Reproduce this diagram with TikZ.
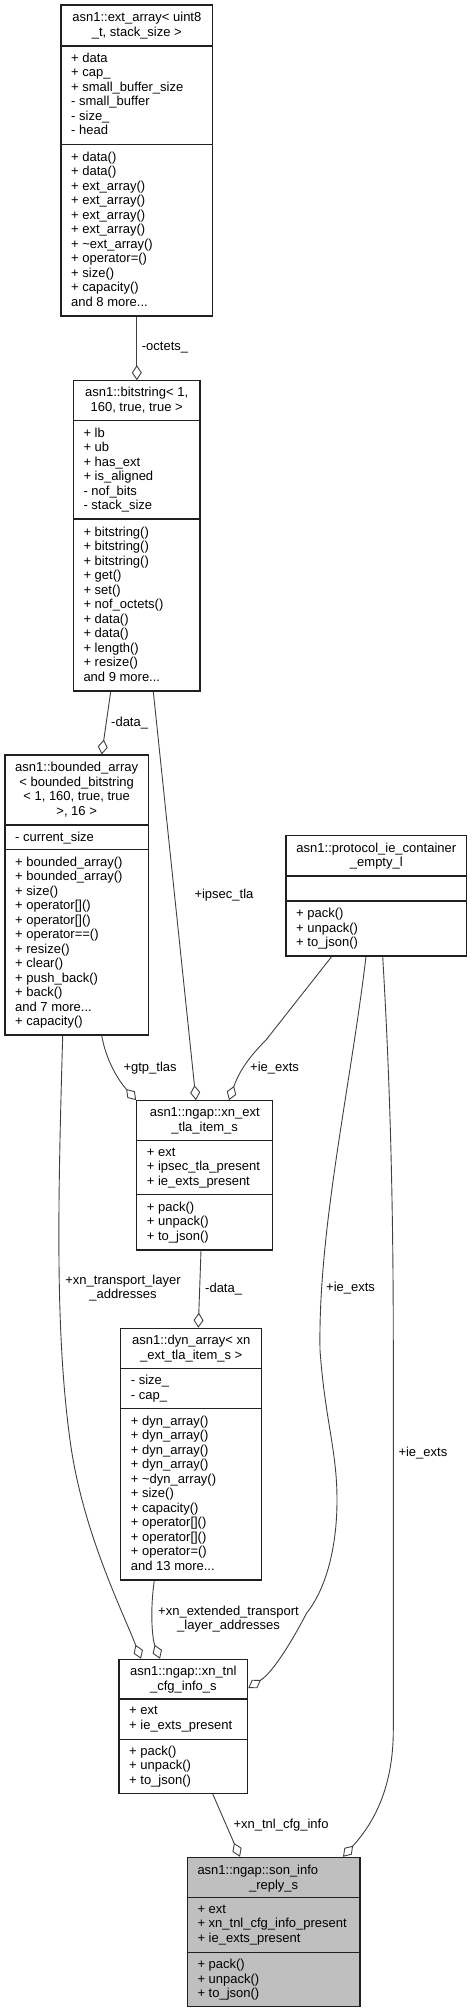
\documentclass[tikz,border=0pt]{standalone}
\usepackage{fontspec}
\setmainfont{Liberation Sans}
\usetikzlibrary{arrows.meta,calc}
\definecolor{edgegray}{HTML}{404040}
\definecolor{framegray}{HTML}{202020}
\definecolor{focusfill}{HTML}{BFBFBF}
\newcommand\umlbox[8]{%
  \node[umlframe, fill=#8, minimum width={(#3)-(#2)}, minimum height={(#7)-(#4)}] (#1) at ({((#2)+(#3))/2},{((#4)+(#7))/2}) {};
  \draw[umlsep] (#2,#5) -- (#3,#5);
  \draw[umlsep] (#2,#6) -- (#3,#6);
}
\begin{document}
\begin{tikzpicture}[x=1pt,y=-1pt,
  umlframe/.style={draw=framegray, line width=1.1pt, inner sep=0pt, rectangle},
  umlsep/.style={draw=framegray, line width=1.1pt},
  utxt/.style={inner sep=0pt, font=\fontsize{13}{14.5}\selectfont, execute at begin node=\strut, execute at end node=\strut},
  ttl/.style={utxt, align=center, anchor=center},
  mem/.style={utxt, align=left, anchor=west},
  lbl/.style={inner sep=0pt, font=\fontsize{13}{14.5}\selectfont, anchor=west},
  lblc/.style={inner sep=0pt, font=\fontsize{13}{14.5}\selectfont, align=center, anchor=center},
  aggr/.style={draw=edgegray, line width=0.9pt, -{Diamond[open, length=15pt, width=10pt]}}
]
\useasboundingbox (0,0) rectangle (473,2013);

% ---------- boxes ----------
\umlbox{E}{61}{212.7}{5}{46}{144.3}{316}{white}
\node[ttl] (Et) at (136.85,26.5) {asn1::ext\_array< uint8\\\_t, stack\_size >};
\node[mem] (Ea) at (71,96.2) {+ data\\+ cap\_\\+ small\_buffer\_size\\- small\_buffer\\- size\_\\- head};
\node[mem] (Em) at (71,231.2) {+ data()\\+ data()\\+ ext\_array()\\+ ext\_array()\\+ ext\_array()\\+ ext\_array()\\+ \textasciitilde{}ext\_array()\\+ operator=()\\+ size()\\+ capacity()\\and 8 more...};

\umlbox{B}{73.3}{200}{380.7}{420.7}{519}{691}{white}
\node[ttl] (Bt) at (136.65,401.7) {asn1::bitstring< 1,\\160, true, true >};
\node[mem] (Ba) at (83.3,470.9) {+ lb\\+ ub\\+ has\_ext\\+ is\_aligned\\- nof\_bits\\- stack\_size};
\node[mem] (Bm) at (83.3,606) {+ bitstring()\\+ bitstring()\\+ bitstring()\\+ get()\\+ set()\\+ nof\_octets()\\+ data()\\+ data()\\+ length()\\+ resize()\\and 9 more...};

\umlbox{BA}{5}{148.3}{755}{825}{849.5}{1035}{white}
\node[ttl] (BAt) at (76.65,791) {asn1::bounded\_array\\< bounded\_bitstring\\< 1, 160, true, true\\>, 16 >};
\node[mem] (BAa) at (15,838.3) {- current\_size};
\node[mem] (BAm) at (15,943.3) {+ bounded\_array()\\+ bounded\_array()\\+ size()\\+ operator[]()\\+ operator[]()\\+ operator==()\\+ resize()\\+ clear()\\+ push\_back()\\+ back()\\and 7 more...\\+ capacity()};

\umlbox{P}{286}{466.7}{835.5}{876}{901}{956}{white}
\node[ttl] (Pt) at (376.35,856.8) {asn1::protocol\_ie\_container\\\_empty\_l};
\node[mem] (Pm) at (296,929.5) {+ pack()\\+ unpack()\\+ to\_json()};

\umlbox{X}{136.7}{272.7}{1100.7}{1140.7}{1194.3}{1250}{white}
\node[ttl] (Xt) at (204.7,1121.7) {asn1::ngap::xn\_ext\\\_tla\_item\_s};
\node[mem] (Xa) at (146.7,1168.5) {+ ext\\+ ipsec\_tla\_present\\+ ie\_exts\_present};
\node[mem] (Xm) at (146.7,1223.2) {+ pack()\\+ unpack()\\+ to\_json()};

\umlbox{D}{120.7}{261.7}{1328.3}{1368.3}{1408.3}{1580}{white}
\node[ttl] (Dt) at (191.2,1349.3) {asn1::dyn\_array< xn\\\_ext\_tla\_item\_s >};
\node[mem] (Da) at (130.7,1389.3) {- size\_\\- cap\_};
\node[mem] (Dm) at (130.7,1495.2) {+ dyn\_array()\\+ dyn\_array()\\+ dyn\_array()\\+ dyn\_array()\\+ \textasciitilde{}dyn\_array()\\+ size()\\+ capacity()\\+ operator[]()\\+ operator[]()\\+ operator=()\\and 13 more...};

\umlbox{T}{119}{247.7}{1659.3}{1699}{1739.3}{1793.3}{white}
\node[ttl] (Tt) at (183.35,1680.2) {asn1::ngap::xn\_tnl\\\_cfg\_info\_s};
\node[mem] (Ta) at (129,1720.2) {+ ext\\+ ie\_exts\_present};
\node[mem] (Tm) at (129,1767.3) {+ pack()\\+ unpack()\\+ to\_json()};

\umlbox{S}{187.3}{360}{1857.3}{1897.3}{1952.3}{2006.7}{focusfill}
\node[lbl, anchor=base west] (St1) at (197.3,1874.8) {asn1::ngap::son\_info};
\node[lbl, anchor=base] (St2) at (273.65,1889.3) {\_reply\_s};
\node[mem] (Sa) at (197.3,1925.8) {+ ext\\+ xn\_tnl\_cfg\_info\_present\\+ ie\_exts\_present};
\node[mem] (Sm) at (197.3,1980.5) {+ pack()\\+ unpack()\\+ to\_json()};

% ---------- connectors ----------
\draw[aggr] (136.85,0 |- E.south) -- (136.85,0 |- B.north);
\draw[aggr] (110.7,0 |- B.south) -- (101.7,0 |- BA.north);
\draw[aggr] (153.3,0 |- B.south) -- (196,0 |- X.north);
\draw[aggr] (101.7,0 |- BA.south) .. controls (106,1060) and (118,1080) .. (X.north west);
\draw[aggr] (331.7,0 |- P.south) -- (266,1040) .. controls (248,1058) and (239,1072) .. (229,0 |- X.north);
\draw[aggr] (201,0 |- X.south) -- (198.3,0 |- D.north);
\draw[aggr] (62.7,0 |- BA.south) .. controls (58,1200) and (55,1330) .. (70,1440) .. controls (82,1530) and (122,1610) .. (141,0 |- T.north);
\draw[aggr] (154.3,0 |- D.south) .. controls (150,1610) and (152,1638) .. (160,0 |- T.north);
\draw[aggr] (366,0 |- P.south) .. controls (350,1090) and (318,1230) .. (320,1350) .. controls (325,1420) and (337,1450) .. (337,1500) .. controls (337,1550) and (325,1590) .. (306.7,1613) .. controls (290,1645) and (272,1673) .. (T.east |- 0,1688);
\draw[aggr] (382.7,0 |- P.south) .. controls (390,1080) and (393.3,1200) .. (393.3,1350) -- (393.3,1730) .. controls (393.3,1790) and (372,1825) .. (343,0 |- S.north);
\draw[aggr] (212.7,0 |- T.south) -- (240,0 |- S.north);

% ---------- connector labels ----------
\node[lbl] (l1) at (141.7,348) {-octets\_};
\node[lbl] (l2) at (111,723) {-data\_};
\node[lbl] (l3) at (194.3,895) {+ipsec\_tla};
\node[lbl] (l4) at (123.3,1068) {+gtp\_tlas};
\node[lbl] (l5) at (250,1068) {+ie\_exts};
\node[lbl] (l6) at (205,1289.3) {-data\_};
\node[lblc] (l7) at (123,1288.3) {+xn\_transport\_layer\\\_addresses};
\node[lbl] (l8) at (326,1288.3) {+ie\_exts};
\node[lbl] (l9) at (398.3,1453.3) {+ie\_exts};
\node[lblc] (l10) at (228.5,1619.2) {+xn\_extended\_transport\\\_layer\_addresses};
\node[lbl] (l11) at (233.3,1825) {+xn\_tnl\_cfg\_info};
\end{tikzpicture}
\end{document}
